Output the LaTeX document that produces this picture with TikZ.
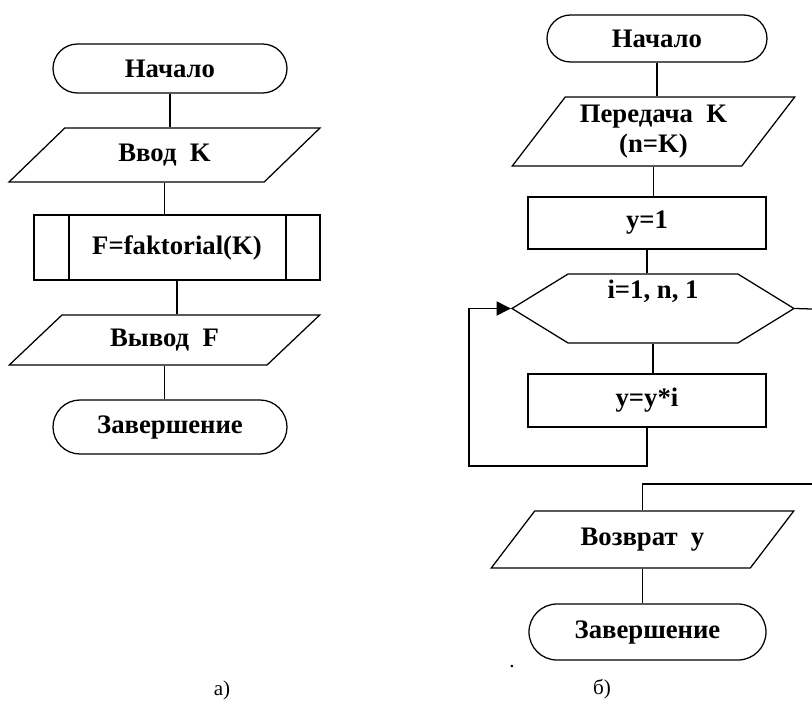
\documentclass[tikz,border=0pt]{standalone}
\usepackage{fontspec}
\setmainfont{Liberation Serif}
\usetikzlibrary{shapes.geometric,shapes.misc,shapes.symbols,arrows.meta}
\newcommand\pxl{0.025cm}

\begin{document}
\begin{tikzpicture}[x=\pxl,y=-\pxl,line width=0.9pt,every node/.style={font=\bfseries\fontsize{19}{21}\selectfont,align=center,inner sep=0pt,line width=0.9pt},
term/.style={draw,rounded rectangle},
io/.style={draw,trapezium,trapezium stretches=true},
proc/.style={draw,rectangle},
sub/.style={draw,rectangle,path picture={\draw ([xshift=35*\pxl]path picture bounding box.north west)--([xshift=35*\pxl]path picture bounding box.south west);\draw ([xshift=-34*\pxl]path picture bounding box.north east)--([xshift=-34*\pxl]path picture bounding box.south east);}},
loopbox/.style={draw,signal,signal to=east and west,signal pointer angle=63.2},
sublabel/.style={font=\mdseries\fontsize{15}{17}\selectfont}]
\useasboundingbox (0,0) rectangle (812,704);
\node(startA)[term,minimum width=234*\pxl,minimum height=49*\pxl] at (170,68.5){Начало};
\node(inA)[io,trapezium left angle=40.6,trapezium right angle=139.4,minimum width=311*\pxl,minimum height=54*\pxl] at (164.5,155){Ввод\ \ K};
\node(subA)[sub,minimum width=286*\pxl,minimum height=65*\pxl] at (177,247.5){F=faktorial(K)};
\node(outA)[io,trapezium left angle=38.4,trapezium right angle=141.6,minimum width=311*\pxl,minimum height=50*\pxl] at (164.5,340){Вывод\ \ F};
\node(endA)[term,minimum width=234*\pxl,minimum height=54*\pxl] at (170,427){Завершение};
\draw(startA.south)--(startA.south|-inA.north);\draw(inA.south)--(inA.south|-subA.north);
\draw(subA.south)--(subA.south|-outA.north);\draw(outA.south)--(outA.south|-endA.north);
\node(startB)[term,minimum width=220*\pxl,minimum height=47*\pxl] at (657,38.5){Начало};
\node(passB)[io,trapezium left angle=50,trapezium right angle=130,minimum width=283*\pxl,minimum height=69*\pxl] at (653.5,131.5){Передача\ \ K\\(n=K)};
\node(initB)[proc,minimum width=238*\pxl,minimum height=52*\pxl] at (647,223){y=1};
\node(loopB)[loopbox,minimum width=282*\pxl,minimum height=69*\pxl] at (653,308.5){\raisebox{0.24cm}[0pt][0pt]{i=1, n, 1}};
\node(bodyB)[proc,minimum width=238*\pxl,minimum height=53*\pxl] at (647,400.5){y=y*i};
\node(retB)[io,trapezium left angle=43,trapezium right angle=137,minimum width=303*\pxl,minimum height=57*\pxl] at (642.5,539.5){Возврат\ \ y};
\node(endB)[term,minimum width=237*\pxl,minimum height=56*\pxl] at (647.5,632){Завершение};
\coordinate(loopL) at (469,466);\coordinate(exitR) at (812,309);\coordinate(backR) at (812,484);
\draw(startB.south)--(startB.south|-passB.north);\draw(passB.south)--(passB.south|-initB.north);
\draw(initB.south)--(initB.south|-loopB.north);\draw(loopB.south)--(loopB.south|-bodyB.north);
\draw[-{Triangle[length=10pt,width=10pt]}](bodyB.south)|-(loopL)|-(loopB.west);
\draw(loopB.east)--(exitR);\draw(backR)-|(retB.north);\draw(retB.south)--(retB.south|-endB.north);
\node(dotB)[sublabel,anchor=base] at (512,667){.};
\node(capA)[sublabel] at (222,690){а)};
\node(capB)[sublabel] at (602,689){б)};
\end{tikzpicture}
\end{document}
